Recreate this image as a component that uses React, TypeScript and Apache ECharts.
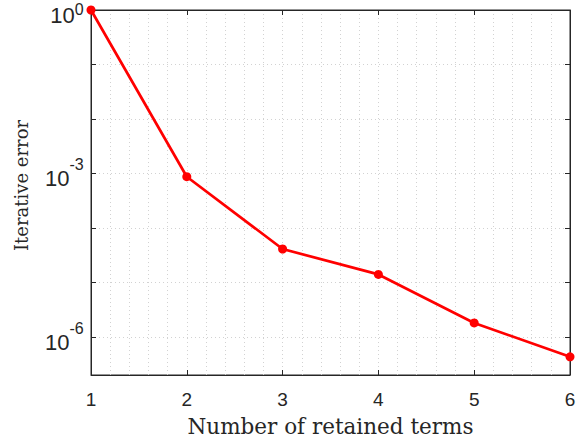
import React, { useEffect, useRef } from "react";
import * as echarts from "echarts";

const termCounts = [1, 2, 3, 4, 5, 6];
const iterativeError = [1.0, 8.7e-4, 4.1e-5, 1.4e-5, 1.8e-6, 4.3e-7];
const xTicks = [1, 2, 3, 4, 5, 6];
const yLabelExponents = [0, -3, -6];

const AXIS = "#262626";
const GRIDC = "#d2d2d2";

export default function App() {
  const ref = useRef<HTMLDivElement>(null);
  useEffect(() => {
    if (!ref.current) return;
    const chart = echarts.init(ref.current, null, { renderer: "svg" });
    const yMin = Math.pow(10, -6.7);
    const yLabel = (v: number) => {
      const e = Math.log10(v);
      const r = Math.round(e);
      if (Math.abs(e - r) > 1e-6) return "";
      if (!yLabelExponents.includes(r)) return "";
      if (r === 0) return "{b|10}{s0|" + r + "}{h0| }";
      return "{b|10}{s|" + r + "}{h| }";
    };
    chart.setOption({
      animation: false,
      grid: {
        left: 91,
        right: 6,
        top: 10,
        bottom: 71,
        show: true,
        borderColor: AXIS,
        borderWidth: 1,
        backgroundColor: "#fff",
        outerBoundsMode: "none",
        containLabel: false,
      },
      xAxis: [
        {
          type: "value",
          min: 1,
          max: 6,
          interval: 1,
          name: "Number of retained terms",
          nameLocation: "middle",
          nameGap: 40,
          nameTextStyle: { fontFamily: "DejaVu Serif", fontSize: 21.5, color: AXIS },
          axisLine: { show: true, lineStyle: { color: AXIS, width: 1 } },
          axisTick: { show: true, inside: true, length: 5, lineStyle: { color: AXIS } },
          axisLabel: {
            fontFamily: "Liberation Sans",
            fontSize: 19,
            color: AXIS,
            margin: 15,
            formatter: (v: number) => (xTicks.includes(v) ? String(v) : ""),
          },
          splitLine: { show: true, lineStyle: { color: GRIDC, type: [1, 3], width: 1 } },
          minorTick: { show: false, splitNumber: 5 },
          minorSplitLine: { show: true, lineStyle: { color: GRIDC, type: [1, 3], width: 1 } },
        },
        {
          type: "value",
          position: "top",
          min: 1,
          max: 6,
          interval: 1,
          axisLine: { show: true, lineStyle: { color: AXIS, width: 1 } },
          axisTick: { show: true, inside: true, length: 5, lineStyle: { color: AXIS } },
          axisLabel: { show: false },
          splitLine: { show: false },
        },
      ],
      yAxis: [
        {
          type: "log",
          logBase: 10,
          min: yMin,
          max: 1,
          splitNumber: 7,
          name: "Iterative error",
          nameLocation: "middle",
          nameGap: 61,
          nameTextStyle: { fontFamily: "DejaVu Serif", fontSize: 18, color: AXIS, padding: [0, 0, 0, 14] },
          axisLine: { show: true, lineStyle: { color: AXIS, width: 1 } },
          axisTick: { show: true, inside: true, length: 5, lineStyle: { color: AXIS } },
          axisLabel: {
            margin: 7,
            formatter: yLabel,
            rich: {
              b: { fontFamily: "Liberation Sans", fontSize: 22, color: AXIS, lineHeight: 22, verticalAlign: "bottom" },
              s: { fontFamily: "Liberation Sans", fontSize: 16, color: AXIS, lineHeight: 16, verticalAlign: "top" },
              s0: { fontFamily: "Liberation Sans", fontSize: 16, color: AXIS, lineHeight: 16, verticalAlign: "top", padding: [7, 0, 0, 0] },
              h: { fontFamily: "Liberation Sans", fontSize: 1, lineHeight: 33, color: "rgba(0,0,0,0)" },
              h0: { fontFamily: "Liberation Sans", fontSize: 1, lineHeight: 32, color: "rgba(0,0,0,0)" },
            },
          },
          splitLine: { show: true, lineStyle: { color: GRIDC, type: [1, 3], width: 1 } },
        },
        {
          type: "log",
          logBase: 10,
          position: "right",
          min: yMin,
          max: 1,
          splitNumber: 7,
          axisLine: { show: true, lineStyle: { color: AXIS, width: 1 } },
          axisTick: { show: true, inside: true, length: 5, lineStyle: { color: AXIS } },
          axisLabel: { show: false },
          splitLine: { show: false },
        },
      ],
      series: [
        {
          type: "line",
          xAxisIndex: 0,
          yAxisIndex: 0,
          data: termCounts.map((x, i) => [x, iterativeError[i]]),
          lineStyle: { color: "#ff0000", width: 2.7 },
          itemStyle: { color: "#ff0000" },
          symbol: "circle",
          symbolSize: 9,
          clip: false,
        },
      ],
    });
    return () => chart.dispose();
  }, []);
  return <div ref={ref} style={{ width: 576, height: 446, position: "absolute", left: 0, top: 0 }} />;
}
